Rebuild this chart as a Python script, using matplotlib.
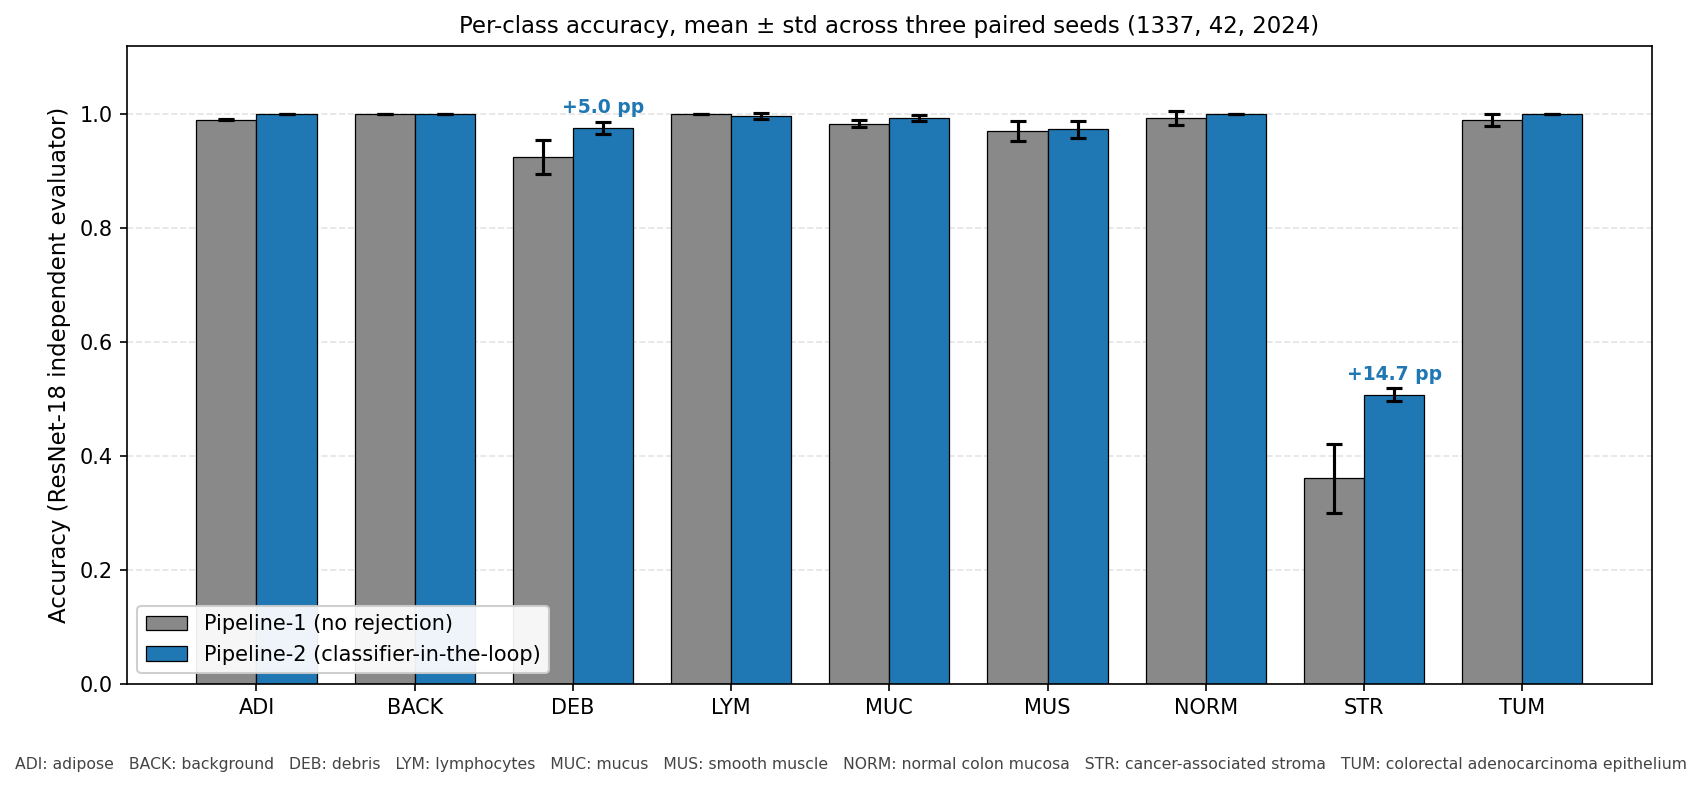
import matplotlib
matplotlib.use("Agg")
import matplotlib.pyplot as plt
import numpy as np

classes = ["ADI", "BACK", "DEB", "LYM", "MUC", "MUS", "NORM", "STR", "TUM"]
p1_mean = [0.990, 1.000, 0.925, 1.000, 0.983, 0.970, 0.993, 0.360, 0.989]
p1_std = [0.001, 0.000, 0.030, 0.000, 0.006, 0.017, 0.012, 0.060, 0.011]
p2_mean = [1.000, 1.000, 0.975, 0.996, 0.993, 0.973, 1.000, 0.507, 1.000]
p2_std = [0.000, 0.000, 0.011, 0.005, 0.005, 0.015, 0.000, 0.011, 0.000]
annot_classes = ["DEB", "STR"]
annot_texts = ["+5.0 pp", "+14.7 pp"]
labels = ["Pipeline-1 (no rejection)", "Pipeline-2 (classifier-in-the-loop)"]
footnote = ("ADI: adipose   BACK: background   DEB: debris   LYM: lymphocytes   MUC: mucus   "
            "MUS: smooth muscle   NORM: normal colon mucosa   STR: cancer-associated stroma   "
            "TUM: colorectal adenocarcinoma epithelium")

DPI = 150
fig = plt.figure(figsize=(1701/DPI, 786/DPI), dpi=DPI)
ax = fig.add_axes([0.0747, 0.1304, 0.8963, 0.8116])

x = np.arange(len(classes))
w = 0.38
ekw = dict(elinewidth=1.5, capthick=1.5, ecolor="black")
ax.bar(x - w/2, p1_mean, w, yerr=p1_std, capsize=4, color="#898989",
       edgecolor="black", linewidth=0.6, label=labels[0], error_kw=ekw, zorder=2)
ax.bar(x + w/2, p2_mean, w, yerr=p2_std, capsize=4, color="#1f77b4",
       edgecolor="black", linewidth=0.6, label=labels[1], error_kw=ekw, zorder=2)

for c, t in zip(annot_classes, annot_texts):
    i = classes.index(c)
    ax.text(x[i] + w/2, p2_mean[i] + p2_std[i] + 0.008, t, ha="center", va="bottom",
            color="#1f77b4", fontweight="bold", fontsize=9)

ax.set_xticks(x)
ax.set_xticklabels(classes, fontsize=10)
ax.tick_params(axis="y", labelsize=10)
ax.set_ylim(0, 1.12)
ax.set_yticks([0.0, 0.2, 0.4, 0.6, 0.8, 1.0])
ax.yaxis.grid(True, linestyle="--", color="#dddddd", linewidth=0.8, alpha=0.8, zorder=0)
ax.set_axisbelow(True)
ax.set_ylabel("Accuracy (ResNet-18 independent evaluator)", fontsize=11)
ax.set_title("Per-class accuracy, mean \u00b1 std across three paired seeds (1337, 42, 2024)",
             fontsize=11)
ax.legend(loc="lower left", fontsize=10, framealpha=0.93)

fig.text(0.009, 0.027, footnote, fontsize=7.5, color="#444444", ha="left", va="center")

fig.savefig("out.png", dpi=DPI)
